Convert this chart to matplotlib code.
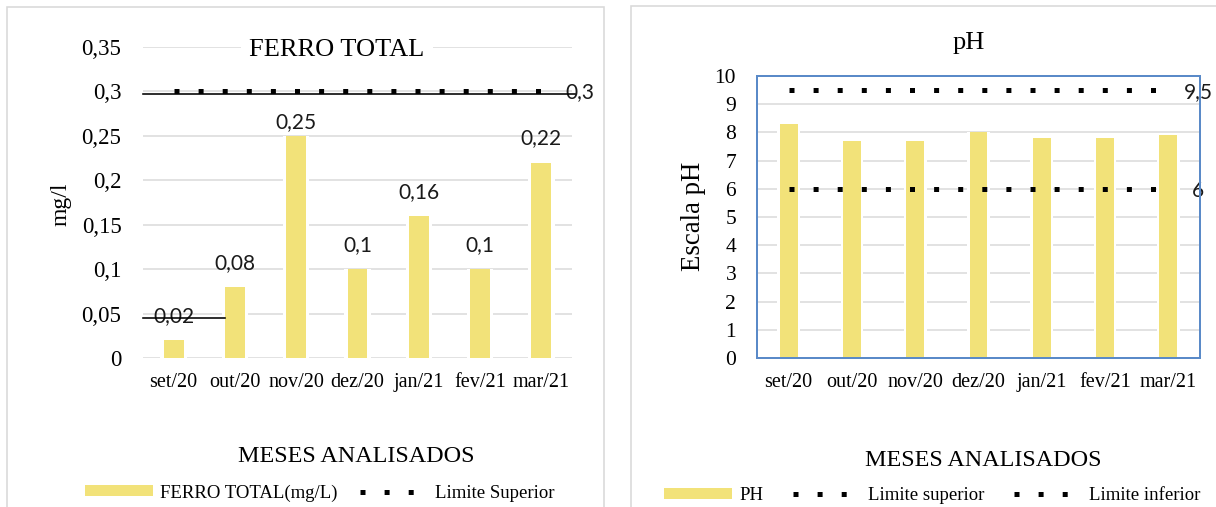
import matplotlib
matplotlib.use("Agg")
import matplotlib.pyplot as plt
from matplotlib.patches import Rectangle, Patch
from matplotlib.lines import Line2D
from matplotlib.transforms import ScaledTranslation

# ---------------- data ----------------
meses = ["set/20", "out/20", "nov/20", "dez/20", "jan/21", "fev/21", "mar/21"]
ferro = [0.02, 0.08, 0.25, 0.1, 0.16, 0.1, 0.22]
ferro_limite = [0.3, 0.3, 0.3, 0.3, 0.3, 0.3, 0.3]
ferro_ticks = [0, 0.05, 0.1, 0.15, 0.2, 0.25, 0.3, 0.35]
ferro_tick_labels = ["0", "0,05", "0,1", "0,15", "0,2", "0,25", "0,3", "0,35"]

ph = [8.3, 7.7, 7.7, 8.0, 7.8, 7.8, 7.9]
ph_sup = [9.5, 9.5, 9.5, 9.5, 9.5, 9.5, 9.5]
ph_inf = [6, 6, 6, 6, 6, 6, 6]
ph_ticks = [0, 1, 2, 3, 4, 5, 6, 7, 8, 9, 10]

# ---------------- style ----------------
W, H = 1216, 507
DPI = 100
PT = 72 / DPI  # points per pixel
SERIF = "Liberation Serif"
SANS = "Lato"
YEL = "#F2E279"
GRID = "#D9D9D9"
BLUE = "#5A8AC8"
DOT = (0, (1, 3.82))

fig = plt.figure(figsize=(W / DPI, H / DPI), dpi=DPI)
fig.patch.set_facecolor("white")


def fx(px):
    return px / W


def fy(py):
    return 1 - py / H


def fmt(v):
    return f"{v:g}".replace(".", ",")


# outer chart borders
fig.patches.append(Rectangle((fx(7), -0.05), fx(604 - 7), fy(7) + 0.05, transform=fig.transFigure,
                             fill=False, edgecolor=GRID, lw=1.6 * PT))
fig.patches.append(Rectangle((fx(631), -0.05), fx(700), fy(6) + 0.05, transform=fig.transFigure,
                             fill=False, edgecolor=GRID, lw=1.6 * PT))

# ================= LEFT: FERRO TOTAL =================
ax1 = fig.add_axes([fx(143), fy(358), fx(572 - 143), (358 - 47) / H])
x = list(range(len(meses)))
ax1.set_xlim(-0.5, len(meses) - 0.5)
ax1.set_ylim(0, 0.35)
for t in ferro_ticks:
    ax1.axhline(t, color=GRID, lw=1.5 * PT, zorder=0)
ax1.bar(x, ferro, width=0.43, color="white", zorder=1)
ax1.bar(x, ferro, width=0.326, color=YEL, zorder=2)
ax1.plot(x, ferro_limite, color="black", lw=5 * PT, linestyle=DOT, dash_capstyle="butt", zorder=6)
# solid black line just below the limit
tr = ax1.get_yaxis_transform() + ScaledTranslation(0, -3 / DPI, fig.dpi_scale_trans)
ax1.plot([0, 1.007], [ferro_limite[0]] * 2, transform=tr, color="black", lw=1.6 * PT, clip_on=False, zorder=6)
# short black stroke near the first label
ax1.plot([0, 0.19], [0.045, 0.045], transform=ax1.get_yaxis_transform(), color="black",
         lw=1.6 * PT, clip_on=False, zorder=7)

for i, v in enumerate(ferro):
    off = 14 if ferro_limite[i] - v < 0.06 else 24
    ax1.annotate(fmt(v), (i, v), xytext=(0, off), textcoords="offset pixels", ha="center", va="center",
                 fontsize=15, family=SANS, color="#1a1a1a", zorder=5)
ax1.annotate(fmt(ferro_limite[-1]), (1, ferro_limite[-1]), xycoords=("axes fraction", "data"),
             xytext=(8, -1), textcoords="offset pixels", ha="center", va="center",
             fontsize=15, family=SANS, color="#1a1a1a", annotation_clip=False)

ax1.set_xticks(x)
ax1.set_xticklabels(meses, family=SERIF, fontsize=14.5)
ax1.set_yticks(ferro_ticks)
ax1.set_yticklabels(ferro_tick_labels, family=SERIF, fontsize=16.5)
ax1.tick_params(axis="x", length=0, pad=10.5)
ax1.tick_params(axis="y", length=0, pad=15.5)
for s in ax1.spines.values():
    s.set_visible(False)

fig.text(fx(337), fy(50), "FERRO TOTAL", ha="center", va="center", family=SERIF, fontsize=19,
         bbox=dict(facecolor="white", edgecolor="none", pad=6), zorder=10)
fig.text(fx(61), fy(204), "mg/l", rotation=90, ha="center", va="center", family=SERIF, fontsize=17)
fig.text(fx(356), fy(457), "MESES ANALISADOS", ha="center", va="center", family=SERIF, fontsize=17.4)

h1 = [Patch(facecolor=YEL, edgecolor="none"),
      Line2D([], [], color="black", lw=5 * PT, linestyle=DOT, dash_capstyle="butt")]
fig.legend(h1, ["FERRO TOTAL(mg/L)", "Limite Superior"], loc="center left",
           bbox_to_anchor=(fx(85), fy(493)), ncol=2, frameon=False,
           prop=dict(family=SERIF, size=13.5), handlelength=3.64, handleheight=0.53,
           handletextpad=0.36, columnspacing=1.2, borderpad=0, borderaxespad=0)

# ================= RIGHT: pH =================
ax2 = fig.add_axes([fx(757), fy(358), fx(1200 - 757), (358 - 76) / H])
ax2.set_xlim(-0.5, len(meses) - 0.5)
ax2.set_ylim(0, 10)
for t in ph_ticks[1:-1]:
    ax2.axhline(t, color=GRID, lw=1.5 * PT, zorder=0)
ax2.bar(x, ph, width=0.36, color="white", zorder=1)
ax2.bar(x, ph, width=0.28, color=YEL, zorder=2)
ax2.plot(x, ph_sup, color="black", lw=5 * PT, linestyle=DOT, dash_capstyle="butt", zorder=6)
ax2.plot(x, ph_inf, color="black", lw=5 * PT, linestyle=DOT, dash_capstyle="butt", zorder=6)
for vals in (ph_sup, ph_inf):
    ax2.annotate(fmt(vals[-1]), (1, vals[-1]), xycoords=("axes fraction", "data"),
                 xytext=(-2, -2), textcoords="offset pixels", ha="center", va="center",
                 fontsize=15, family=SANS, color="#1a1a1a", annotation_clip=False, zorder=8)

ax2.set_xticks(x)
ax2.set_xticklabels(meses, family=SERIF, fontsize=14.5)
ax2.set_yticks(ph_ticks)
ax2.set_yticklabels([str(t) for t in ph_ticks], family=SERIF, fontsize=15.5)
ax2.tick_params(axis="x", length=0, pad=10.5)
ax2.tick_params(axis="y", length=0, pad=15)
for s in ax2.spines.values():
    s.set_color(BLUE)
    s.set_linewidth(2 * PT)
    s.set_zorder(9)

fig.text(fx(969), fy(43), "pH", ha="center", va="center", family=SERIF, fontsize=19)
fig.text(fx(693), fy(216), "Escala pH", rotation=90, ha="center", va="center", family=SERIF, fontsize=19.3)
fig.text(fx(983), fy(460), "MESES ANALISADOS", ha="center", va="center", family=SERIF, fontsize=17.4)

h2 = [Patch(facecolor=YEL, edgecolor="none"),
      Line2D([], [], color="black", lw=5 * PT, linestyle=DOT, dash_capstyle="butt"),
      Line2D([], [], color="black", lw=5 * PT, linestyle=DOT, dash_capstyle="butt")]
fig.legend(h2, ["PH", "Limite superior", "Limite inferior"], loc="center left",
           bbox_to_anchor=(fx(664), fy(496)), ncol=3, frameon=False,
           prop=dict(family=SERIF, size=13.5), handlelength=3.64, handleheight=0.53,
           handletextpad=0.36, columnspacing=1.6, borderpad=0, borderaxespad=0)

fig.savefig("out.png", dpi=DPI, facecolor="white")
